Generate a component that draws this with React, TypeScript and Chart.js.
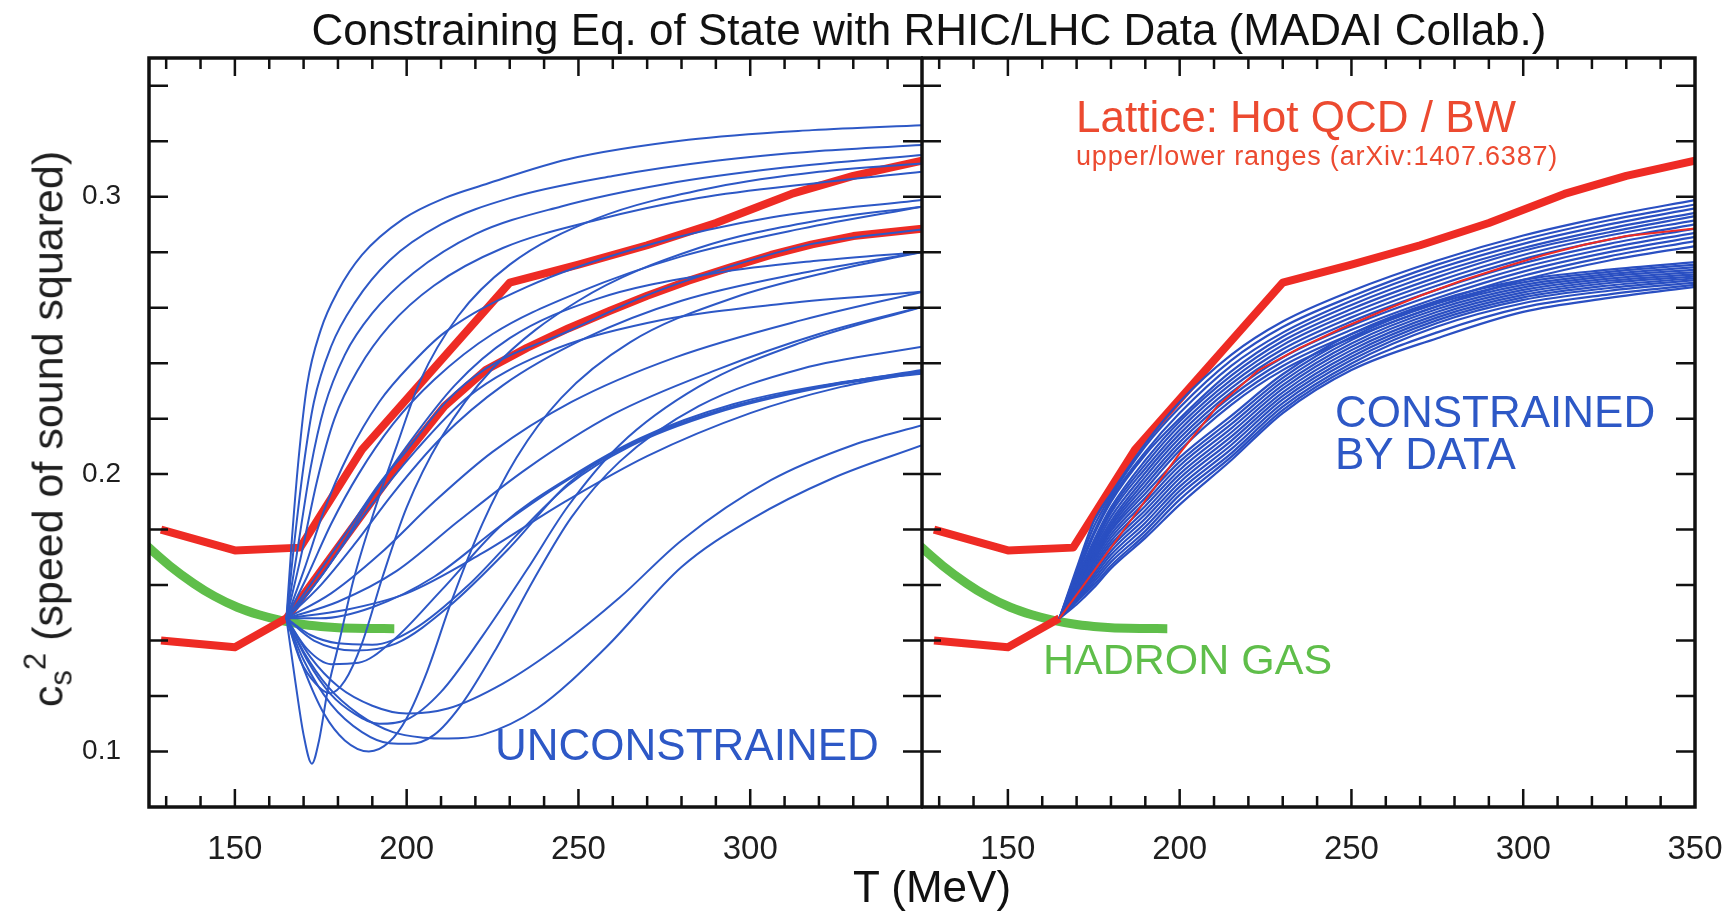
import React, { useEffect, useRef } from 'react';
import { Chart, registerables } from 'chart.js';

Chart.register(...registerables);

const FONT = '"Liberation Sans", Arial, Helvetica, sans-serif';

// ---------- axes ----------
const T_MIN = 125;
const T_MAX = 350;
const V_MIN = 0.08;
const V_MAX = 0.35;
const xLabelsLeft = [150, 200, 250, 300];
const xLabelsRight = [150, 200, 250, 300, 350];
const yLabels = [0.1, 0.2, 0.3];
const xTickMarks = [130, 140, 150, 160, 170, 180, 190, 200, 210, 220, 230, 240, 250, 260, 270, 280, 290, 300, 310, 320, 330, 340];
const yTickMarks = [0.1, 0.12, 0.14, 0.16, 0.18, 0.2, 0.22, 0.24, 0.26, 0.28, 0.3, 0.32, 0.34];

// ---------- lattice (Hot QCD / BW) upper and lower ranges ----------
const latticeUpper: [number, number][] = [
  [128.5, 0.18], [150, 0.1725], [169, 0.1735], [187, 0.2088], [230, 0.269], [250, 0.2755],
  [270, 0.2825], [290, 0.2905], [312, 0.301], [330, 0.3075], [350, 0.313],
];
const latticeLower: [number, number][] = [
  [128.5, 0.14], [150, 0.1376], [165, 0.148], [183, 0.1786], [200, 0.2075], [211, 0.2245],
  [223, 0.2375], [235, 0.2455], [247, 0.2525], [259, 0.2588], [270, 0.2643], [282, 0.2697],
  [294, 0.2745], [306, 0.279], [318, 0.2828], [330, 0.2858], [350, 0.2885],
];

// ---------- hadron gas ----------
const hadronGas: [number, number][] = [
  [124, 0.1745], [131, 0.167], [138, 0.1606], [144, 0.156], [150.7, 0.152], [157, 0.1493],
  [163.3, 0.1473], [170, 0.1458], [177, 0.1449], [185, 0.1444], [196.4, 0.1443],
];

// ---------- unconstrained EoS samples (left panel) ----------
const L01: [number, number][] = [[165, .148], [166.5, .175], [168.5, .205], [171, .232], [175, .252], [180, .266], [187, .279], [199, .292], [211, .2995], [223, .3045], [247, .3135], [282, .3205], [318, .324], [350, .3258]];
const L02: [number, number][] = [[165, .148], [167, .172], [170, .203], [173, .226], [178, .246], [185, .262], [195, .277], [210, .29], [230, .2995], [260, .3075], [290, .313], [320, .3165], [350, .3186]];
const L03: [number, number][] = [[165, .148], [168, .171], [172, .202], [176, .224], [182, .243], [190, .258], [202, .2725], [220, .2865], [245, .2965], [275, .3045], [310, .3105], [350, .315]];
const L04: [number, number][] = [[165, .148], [169, .169], [174, .198], [179, .22], [186, .238], [195, .2535], [208, .268], [228, .2815], [255, .2915], [285, .2995], [320, .305], [350, .309]];
const L05: [number, number][] = [[165, .148], [170, .165], [176, .187], [183, .207], [192, .226], [202, .2405], [211, .251], [235, .2675], [270, .2825], [306, .2925], [350, .2988]];
const L06: [number, number][] = [[165, .148], [171, .163], [178, .182], [186, .2], [196, .218], [208, .234], [225, .2505], [250, .2655], [280, .2785], [315, .2885], [350, .2964]];
const L07: [number, number][] = [[165, .148], [173, .162], [183, .18], [192, .1965], [200, .2085], [211, .2255], [223, .238], [247, .2515], [270, .2645], [294, .2748], [318, .283], [350, .2882]];
const L08: [number, number][] = [[165, .148], [175, .16], [185, .175], [196, .193], [210, .213], [228, .232], [252, .249], [280, .2625], [315, .2725], [350, .2801]];
const L09: [number, number][] = [[165, .148], [178, .157], [192, .171], [208, .19], [225, .208], [248, .226], [278, .242], [315, .2555], [350, .2657]];
const L10: [number, number][] = [[165, .148], [180, .154], [197, .165], [215, .183], [235, .202], [260, .2215], [290, .2375], [320, .2505], [350, .2603]];
const L11: [number, number][] = [[165, .148], [182, .151], [200, .157], [222, .1715], [246, .19], [270, .2065], [300, .222], [325, .231], [350, .2368]];
const L12: [number, number][] = [[165, .148], [167.5, .126], [170, .106], [172.4, .0956], [174.5, .104], [177, .122], [180, .1376], [184.5, .1617], [190.3, .1857], [197, .2098], [204, .2338], [215, .257], [230, .2755], [255, .292], [290, .3035], [320, .309], [350, .312]];
const L13: [number, number][] = [[165, .148], [169, .133], [173.5, .1245], [177.7, .121], [182, .1255], [187, .139], [193, .163], [200, .188], [210, .213], [225, .238], [250, .2625], [285, .2815], [320, .2915], [350, .2964]];
const L14: [number, number][] = [[165, .148], [170, .13], [176, .1135], [182, .104], [189, .1], [195, .1035], [200, .112], [206, .129], [213, .154], [222, .182], [232, .206], [245, .2275], [265, .2475], [295, .2635], [325, .2735], [350, .2801]];
const L15: [number, number][] = [[165, .148], [171, .133], [178, .1205], [185, .1135], [192, .11], [200, .1115], [210, .1215], [222, .1415], [235, .1655], [247, .1885], [262, .2105], [285, .2315], [315, .2475], [350, .2603]];
const L16: [number, number][] = [[165, .148], [172, .134], [180, .1235], [190, .1165], [200, .1137], [212, .1155], [228, .1245], [245, .1385], [262, .1555], [280, .1761], [306, .1978], [330, .2105], [350, .2176]];
const L17: [number, number][] = [[165, .148], [170, .136], [177, .1235], [186, .1135], [196, .107], [205, .105], [212, .1047], [222, .106], [238, .1155], [258, .1375], [280, .1665], [300, .1835], [324, .1985], [350, .2104]];
const L18: [number, number][] = [[165, .148], [170, .133], [178, .117], [187, .107], [195, .103], [201, .1028], [208, .106], [216, .117], [226, .137], [237, .162], [248, .1845], [262, .2045], [285, .2245], [315, .238], [350, .2459]];
const L19: [number, number][] = [[165, .148], [172, .142], [180, .139], [190, .1385], [202, .144], [218, .16], [232, .178], [247, .196], [265, .21], [290, .222], [320, .231], [350, .2368]];
const L20: [number, number][] = [[165, .148], [173, .14], [185, .1364], [197, .139], [212, .152], [230, .1735], [247, .1965], [265, .2105], [290, .2225], [320, .2315], [350, .2372]];
const L21: [number, number][] = [[165, .148], [175, .148], [190, .152], [208, .163], [228, .182], [247, .198], [268, .2125], [295, .2245], [325, .2325], [350, .2375]];
const L22: [number, number][] = [[165, .148], [171, .137], [178, .1315], [186, .132], [196, .14], [210, .158], [228, .182], [247, .1985], [268, .213], [295, .2252], [325, .2328], [350, .2362]];
const L23: [number, number][] = [[165, .148], [172, .158], [180, .172], [190, .192], [200, .21], [214, .232], [230, .249], [255, .263], [290, .2725], [320, .277], [350, .2801]];
const L24: [number, number][] = [[165, .148], [175, .163], [188, .186], [203, .209], [218, .228], [240, .2435], [270, .2545], [310, .2615], [350, .2657]];
const unconstrained = [L01, L02, L03, L04, L05, L06, L07, L08, L09, L10, L11, L12, L13, L14, L15, L16, L17, L18, L19, L20, L21, L22, L23, L24];

// ---------- constrained EoS samples (right panel), on a shared T grid ----------
const rightT = [165, 170, 175, 180, 190, 200, 215, 230, 250, 275, 300, 325, 350];
const R01 = [.148, .166, .183, .193, .211, .226, .243, .255, .266, .277, .286, .293, .2988];
const R02 = [.148, .165, .181, .192, .210, .224, .241, .253, .264, .2755, .2845, .2915, .2972];
const R03 = [.148, .164, .179, .191, .208, .222, .239, .251, .2625, .274, .283, .290, .2958];
const R04 = [.148, .163, .178, .190, .207, .220, .237, .2495, .261, .2725, .2815, .2885, .2942];
const R05 = [.148, .162, .176, .188, .205, .219, .2355, .248, .2595, .271, .2805, .2872, .293];
const R06 = [.148, .1615, .175, .187, .2035, .2175, .234, .2465, .258, .2695, .279, .286, .2915];
const R07 = [.148, .161, .174, .186, .202, .216, .2325, .245, .2565, .268, .2775, .2845, .290];
const R08 = [.148, .160, .173, .1845, .2005, .2145, .231, .2435, .255, .2665, .276, .283, .2885];
const R09 = [.148, .1595, .172, .183, .199, .213, .2295, .242, .2535, .265, .2745, .2815, .287];
const R10 = [.148, .159, .171, .182, .1975, .2115, .228, .2405, .252, .2635, .273, .280, .2855];
const R11 = [.148, .158, .170, .181, .196, .210, .2265, .239, .2505, .262, .2715, .2785, .284];
const R12 = [.148, .1575, .169, .180, .1945, .2085, .225, .2375, .249, .2605, .270, .277, .2822];
const R13 = [.148, .159, .170, .1795, .193, .206, .221, .236, .2505, .2625, .2700, .2737, .2764];
const R14 = [.148, .1585, .169, .1783, .1915, .2045, .2195, .2347, .2494, .2615, .2691, .2729, .2755];
const R15 = [.148, .158, .168, .1771, .190, .203, .218, .2334, .2483, .2605, .2682, .2721, .2746];
const R16 = [.148, .1575, .167, .1759, .1885, .2015, .2165, .2321, .2471, .2595, .2673, .2713, .2737];
const R17 = [.148, .157, .166, .1747, .187, .200, .215, .2308, .2459, .2585, .2664, .2705, .2728];
const R18 = [.148, .1565, .165, .1735, .1855, .1985, .2135, .2295, .2447, .2575, .2655, .2697, .2720];
const R19 = [.148, .156, .164, .1722, .184, .197, .212, .2282, .2435, .2565, .2646, .2689, .2713];
const R20 = [.148, .1555, .163, .1709, .1825, .1955, .2105, .2269, .2423, .2555, .2637, .2680, .2706];
const R21 = [.148, .155, .162, .1696, .181, .194, .209, .2256, .2411, .2545, .2628, .2671, .2699];
const R22 = [.148, .1545, .161, .1683, .1795, .1925, .2075, .2243, .2399, .2532, .2616, .2661, .2690];
const R23 = [.148, .154, .160, .167, .1782, .1908, .2062, .2231, .2387, .2511, .2601, .2648, .2682];
const R24 = [.148, .153, .159, .166, .177, .189, .205, .222, .2375, .249, .2585, .2635, .2675];
const constrained = [R01, R02, R03, R04, R05, R06, R07, R08, R09, R10, R11, R12, R13, R14, R15, R16, R17, R18, R19, R20, R21, R22, R23, R24];

// ---------- styles ----------
const BLUE = '#2d58c6';
const BLUE_DENSE = '#2a4fc2';
const RED = '#ee2b24';
const GREEN = '#5fbe4a';

const pairs = (p: [number, number][]) => p.map(([x, y]) => ({ x, y }));
const onGrid = (ys: number[]) => ys.map((y, i) => ({ x: rightT[i], y }));

function lineDs(data: any[], color: string, width: number, order: number, smooth: boolean) {
  return {
    data,
    borderColor: color,
    borderWidth: width,
    pointRadius: 0,
    fill: false,
    clip: 0,
    order,
    tension: smooth ? 0.4 : 0,
    cubicInterpolationMode: smooth ? 'monotone' : 'default',
    borderCapStyle: 'butt',
    borderJoinStyle: 'round',
  };
}

const frameTicks = {
  id: 'frameTicks',
  afterDatasetsDraw(chart: any) {
    const { ctx, chartArea: a, scales } = chart;
    const x = scales.x;
    const y = scales.y;
    ctx.save();
    ctx.strokeStyle = '#111';
    ctx.lineWidth = 2.5;
    ctx.beginPath();
    for (const t of xTickMarks) {
      const px = x.getPixelForValue(t);
      const len = t % 50 === 0 ? 18 : 11;
      ctx.moveTo(px, a.bottom);
      ctx.lineTo(px, a.bottom - len);
      ctx.moveTo(px, a.top);
      ctx.lineTo(px, a.top + len);
    }
    for (const v of yTickMarks) {
      const py = y.getPixelForValue(v);
      ctx.moveTo(a.left, py);
      ctx.lineTo(a.left + 19, py);
      ctx.moveTo(a.right, py);
      ctx.lineTo(a.right - 19, py);
    }
    ctx.stroke();
    ctx.lineWidth = 3.5;
    ctx.strokeRect(a.left, a.top, a.right - a.left, a.bottom - a.top);
    ctx.restore();
  },
};

function makeConfig(side: 'left' | 'right'): any {
  const datasets: any[] = [];
  if (side === 'left') {
    unconstrained.forEach((c) => datasets.push(lineDs(pairs(c), BLUE, 2, 1, true)));
    datasets.push(lineDs(pairs(latticeUpper), RED, 8, 2, false));
    datasets.push(lineDs(pairs(latticeLower), RED, 8, 2, false));
    datasets.push(lineDs(pairs(hadronGas), GREEN, 9, 3, true));
  } else {
    datasets.push(lineDs(pairs(latticeLower.filter((p) => p[0] >= 165)), RED, 2, 0, false));
    constrained.forEach((c) => datasets.push(lineDs(onGrid(c), BLUE_DENSE, 2.2, 1, true)));
    datasets.push(lineDs(pairs(latticeUpper), RED, 8, 2, false));
    datasets.push(lineDs(pairs(latticeLower.filter((p) => p[0] <= 166)), RED, 8, 2, false));
    datasets.push(lineDs(pairs(hadronGas), GREEN, 9, 3, true));
  }
  const xLabels = side === 'left' ? xLabelsLeft : xLabelsRight;
  return {
    type: 'line',
    data: { datasets },
    options: {
      animation: false,
      responsive: false,
      events: [],
      layout: { padding: side === 'left' ? { left: 0, right: 1, top: 58, bottom: 0 } : { left: 1, right: 37, top: 58, bottom: 0 } },
      plugins: { legend: { display: false }, tooltip: { enabled: false }, title: { display: false } },
      scales: {
        x: {
          type: 'linear',
          min: T_MIN,
          max: T_MAX,
          grid: { display: false, drawTicks: false },
          border: { display: false },
          afterBuildTicks: (s: any) => { s.ticks = xLabels.map((v) => ({ value: v })); },
          afterFit: (s: any) => { s.height = 106; s.paddingLeft = 0; s.paddingRight = 0; },
          ticks: {
            autoSkip: false,
            maxRotation: 0,
            padding: 23,
            color: '#1e1e1e',
            font: { family: FONT, size: 33 },
            callback: (v: any) => String(v),
          },
        },
        y: {
          type: 'linear',
          min: V_MIN,
          max: V_MAX,
          display: side === 'left',
          grid: { display: false, drawTicks: false },
          border: { display: false },
          afterBuildTicks: (s: any) => { s.ticks = yLabels.map((v) => ({ value: v })); },
          afterFit: (s: any) => { s.width = side === 'left' ? 149 : 0; s.paddingTop = 0; s.paddingBottom = 0; },
          ticks: {
            padding: 28,
            color: '#1e1e1e',
            font: { family: FONT, size: 28 },
            callback: (v: any) => Number(v).toFixed(1),
          },
        },
      },
    },
    plugins: [frameTicks],
  };
}

function Panel({ side, left, width }: { side: 'left' | 'right'; left: number; width: number }) {
  const ref = useRef<HTMLCanvasElement | null>(null);
  useEffect(() => {
    if (!ref.current) return;
    const chart = new Chart(ref.current, makeConfig(side));
    return () => chart.destroy();
  }, [side]);
  return (
    <canvas
      ref={ref}
      width={width}
      height={913}
      style={{ position: 'absolute', left, top: 0, width, height: 913 }}
    />
  );
}

function Txt({ x, baseline, size, color, children, center, spacing }: any) {
  return (
    <div
      style={{
        position: 'absolute',
        left: x,
        top: baseline - 0.8465 * size,
        fontFamily: FONT,
        fontSize: size,
        lineHeight: `${size}px`,
        color,
        whiteSpace: 'nowrap',
        letterSpacing: spacing ?? 0,
        transform: center ? 'translateX(-50%)' : undefined,
      }}
    >
      {children}
    </div>
  );
}

export default function App() {
  return (
    <div style={{ position: 'absolute', left: 0, top: 0, width: 1732, height: 913, background: '#fff', overflow: 'hidden' }}>
      <Panel side="left" left={0} width={923} />
      <Panel side="right" left={921} width={811} />
      <Txt x={929} baseline={45} size={44} color="#111" center>
        Constraining Eq. of State with RHIC/LHC Data (MADAI Collab.)
      </Txt>
      <Txt x={932} baseline={902} size={44} color="#111" center>
        T (MeV)
      </Txt>
      <div
        style={{
          position: 'absolute',
          left: 50,
          top: 429,
          transform: 'translate(-50%, -50%) rotate(-90deg)',
          fontFamily: FONT,
          fontSize: 43,
          lineHeight: '43px',
          color: '#1e1e1e',
          whiteSpace: 'nowrap',
        }}
      >
        c<span style={{ fontSize: '0.72em', position: 'relative', top: '0.3em' }}>s</span>
        <span style={{ fontSize: '0.72em', position: 'relative', top: '-0.55em' }}>2</span> (speed of sound squared)
      </div>
      <Txt x={495} baseline={760} size={44} color={BLUE}>UNCONSTRAINED</Txt>
      <Txt x={1335} baseline={427} size={44} color={BLUE}>CONSTRAINED</Txt>
      <Txt x={1335} baseline={469} size={44} color={BLUE}>BY DATA</Txt>
      <Txt x={1043} baseline={674} size={43} color={GREEN}>HADRON GAS</Txt>
      <Txt x={1076} baseline={132} size={44} color="#ec4a30">Lattice: Hot QCD / BW</Txt>
      <Txt x={1076} baseline={166} size={27} color="#ec4a30" spacing={0.8}>upper/lower ranges (arXiv:1407.6387)</Txt>
    </div>
  );
}
